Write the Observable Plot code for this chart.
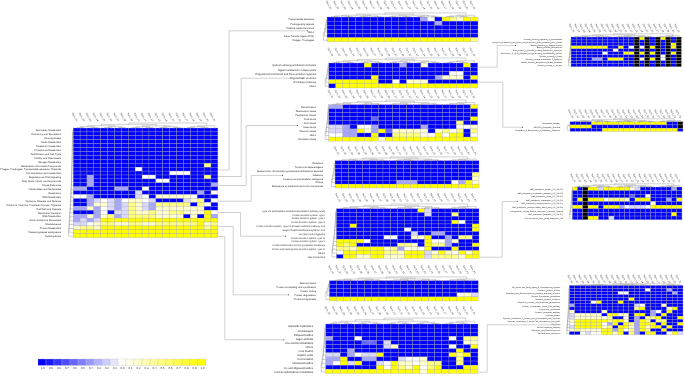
<!DOCTYPE html>
<html><head><meta charset="utf-8">
<style>html,body{margin:0;padding:0;background:#fff}#chart{position:relative;width:685px;height:376px;overflow:hidden;background:#fff;font-family:"Liberation Sans",Arial,sans-serif;filter:blur(.3px);text-rendering:geometricPrecision}#chart svg{position:absolute;text-rendering:geometricPrecision}</style>
<script src="https://cdn.jsdelivr.net/npm/d3@7"></script>
<script src="https://cdn.jsdelivr.net/npm/@observablehq/plot@0.6"></script>
</head><body><div id="chart"></div>
<script>
// Cell codes
const levels = {B:-1, m:-0.6, l:-0.35, p:-0.15, w:0, c:0.2, y:0.5, Y:1, K:null};
const B = "BBBBBBBBBBBBBBBBBBBBB", Yy = "YYYYYYYYYYYYYYYYYYYYY";
const sampleNames = ["Sam_01","Sam_02","Sam_03","Sam_04","Sam_05","Sam_06","Sam_07","Sam_08","Sam_09","Sam_10","Sam_11","Sam_12","Sam_13","Sam_14","Sam_15","Sam_16","Sam_17","Sam_18","Sam_19","Sam_20","Sam_21"];
const legendTicks = [-1,-.9,-.8,-.7,-.6,-.5,-.4,-.3,-.2,-.1,0,.1,.2,.3,.4,.5,.6,.7,.8,.9,1];

const mainLabels = ["Secondary Metabolism","Dormancy and Sporulation","Photosynthesis","Sulfur Metabolism","Potassium metabolism","Phosphorus Metabolism","Cell Division and Cell Cycle","Motility and Chemotaxis","Nitrogen Metabolism","Metabolism of Aromatic Compounds","Phages, Prophages, Transposable elements, Plasmids","Iron acquisition and metabolism","Regulation and Cell signaling","Fatty Acids, Lipids, and Isoprenoids","Stress Response","Nucleosides and Nucleotides","Respiration","DNA Metabolism","Virulence, Disease and Defense","Cofactors, Vitamins, Prosthetic Groups, Pigments","Cell Wall and Capsule","Membrane Transport","RNA Metabolism","Amino Acids and Derivatives","Miscellaneous","Protein Metabolism","Clustering-based subsystems","Carbohydrates"];
const mainValues = [B,B,B,B,B,B,B,B,B,
"BBBBBBBBBBBBBBBBBBByB","BBBBBBBBBwBBBBBBBBBBB","BBBBBBBBBBBBBBwwwBBBB",
"BBlBBBBBBBwwBBBBBBByB","BBlBBBBBBBBBwwBBBBBBB","BBlBBBBBBBBBBBBBBBBBl",
"llBBBBllBBwBBBBBBBBBB","BBBBBBBBBpBBBBBBBBlBw",
"wwlBBBBBBpwBcccccwBBB","BBlpwplwccwpBBBBpcyBw","BBlccplpycplyyyyyBywB",
"llclwplpycplcccccccBB","BBBlwBppyccyccyycccYw","llclcylpyyyyccccBcBYl",
"lplpYYYYYYYYYYYYYYYYY","ppwcyyccyyccyyyyyyYcy","cyycYYYYYYYYYYYYYYYyY",Yy,Yy];

const aLabels = ["Transposable elements","Pathogenicity islands","Plasmid related functions","NULL","Gene Transfer Agent (GTA)","Phages, Prophages"];
const aValues = ["BBBBBBBBBBBBBlwBYycYY","BBBBBBBBBBBBBBBlBBBBB",B,B,B,"YYYYYYYYYYYYYYYYYYYYy"];

const bLabels = ["Quorum sensing and biofilm formation","Signal transduction in Eukaryotes","Programmed Cell Death and Toxin-antitoxin Systems","Regulation of virulence","Proteolytic pathway","NULL"];
const bValues = ["BBBBBYBBBBlBBcBBBBBYB",B,"BBBBBBBBBBBBBBBBBwwBB","BBBBBBYBBBBBBBBlcccBY","YYYYYYYBBwBcccBBBBBBB","BYYYYYYYYYYYYYYYYYYYY"];

const cLabels = ["Detoxification","Desiccation stress","Periplasmic Stress","Cold shock","Acid stress","Heat shock","Osmotic stress","NULL","Oxidative stress"];
const cValues = ["llBBBBBBBBBBBBBBBBBBY",B,B,"BBBBBBmBBBBBBBBBBBBBY","BBBBBBBBBBBBBBBBBByBB","pplBwwlBBBBBBlBBBBwwc","ppllYclYmcccccBcywyBy","wwllBBYBByyyywwYwYYBw","YYYYYYYcYYYYYYYYYYYYY"];

const dLabels = ["Detection","Toxins and superantigens","Bacteriocins, ribosomally synthesized antibacterial peptides","Adhesion","Invasion and intracellular resistance","Others","Resistance to antibiotics and toxic compounds"];
const dValues = [B,B,B,"BBBBBBBBBBBBBBBBBBBBy","BBBBBBBBBBBBBBBBBBBBc","BBBBBBBBBlllBBBBBwlYc",Yy];

const eLabels = ["Type VIII (Extracellular nucleation/precipitation pathway, ENP)","Protein secretion system, Type I","Protein secretion system, Type II","Protein secretion system, Type III","Protein secretion system, Type VII (Chaperone/Usher pathway, CU)","Sugar Phosphotransferase Systems, PTS","Lan (Iper) and polyglycine","Protein secretion system, Type VI","Protein secretion system, Type V","Protein translocation across cytoplasmic membrane","Protein and nucleoprotein secretion system, Type IV","Others","ABC transporters"];
const eValues = ["BBBBBBBBBBBBYpBBBBBBB","BBBBBBBBBBBBBpBBByBBB",B,"BBBBBBBBBBBBBBBBBYwBB","BBYBBBBBBBBBBBBBBBBBY","BBBBBBBBBBwBBBBBBBBBY","BBBBBBBBBBBpBBllBBBBB","BBBBBBBwwBBccYBBlByyB","YYYYwBBBBBBBBYwwlcBBB","YyYBBBBBByycBYyylBBBY","yycYYYYcylwcwYBBBYBBB","wYYYYYYyycYYYpcYcwYcY","BYYccYYcccYYYpyyyycYY"];

const fLabels = ["Selenoproteins","Protein processing and modification","Protein folding","Protein degradation","Protein biosynthesis"];
const fValues = [B,B,B,"BBBBBBBBBBBBBBBBBBwcp",Yy];

const gLabels = ["Glycoside hydrolases","Aminosugars","Polysaccharides","Sugar alcohols","One-carbon Metabolism","Others","CO2 fixation","Organic acids","Fermentation","Monosaccharides","Di- and oligosaccharides","Central carbohydrate metabolism"];
const gValues = [B,B,B,"lBBBwBBBBBBBBBBBBwByy","BBBBBmmBpBBBBBBBBBBcc","BBBBBBBBpcBBBBBBBwBBY","BBBlBBBBBBBBBBBBBBYBB","ppBlwppYBBBBBBBBBYyYB","llYBBllBBBpwwcBBBByBB","lwYpYBBpwYccwcyyBByBB","BBBBBBBYwYycYwyYBBBYY","YYYYYYYYYYYYYcYYYYYYY"];

const hLabels = ["Quorum_sensing_regulation_of_biosurfactant","Acetylene_metabolism_and_hybrid_dehydrogenase_biotin_formation_gene_cluster","Biofilm_formation_in_Staphylococcus","Biofilm_Adhesin_Biosynthesis","Auto_Inducer_2_Quorum_sensing_Autoinducer_Synthesis","Autoinducer_2_(AI-2)_transport_and_processing_(lsrACDBFGE_operon)","Quorum_sensing_in_Vibrio","Quorum_sensing_Autoinducer-2_Synthesis","Biofilm_Adhesin_Biosynthesis_Biofilm_formation","Quorum_sensing_in_Yersinia"];
const hValues = ["BBBBBBBBBBBBKYKBKYKBK","BBBBBBBBBBBBKBKBKBKBK","BBBBBBBBBBBBKBKBKBKYK","YYYYYYYBBYBwKwKYKBKYK","BBBBBBBBwBBBKBKBKBKBK","BBBBBBwBBBYYKYKYKBKYK","BBBBBBBBBBBBKBKBKwKBK","BBBBllBYYYBBKcKYKwKBK","BBBBBBBBBBBBKBKBKBKBK","BBBBBBBBBBBBKBKBKBKBK"];

const iLabels = ["Coagulation_cascade","SNF2005_Phosphate_Removal","Regulation_of_Biosynthesis_of_Galactose_Pathways"];
const iValues = ["BBBBYYYYYYYYYYYYYYBBK","YYYYBBBBBBBBBBBBBBBBK","BBBBBBYYYYYYYYYYYYYYB"];

const jLabels = ["ABC_transporter_peptide_(TC_3.A.1.5)","ABC_transporter_D-galactose_transport_(TC_3.A.1.2)","ABC_transporter_sugar_(TC_3.A.1.1)","ABC_transporter_oligopeptide_(TC_3.A.1.5)","ABC_transporter_dihydroxyacetone_(TC_3.A.1.5)","ABC_transporter_branched-chain_amino_acid_(TC_3.A.1.4)","Ferripyochelin_binding_Protein_(Dipeptide_Transcript_System)","ABC_transporter_tungstate_(TC_3.A.1.6)","ATP-dependent_efflux_pump_transporter_Ybt"];
const jValues = ["YBKYYpYYYYYwpBBBBBBlB","BBKBBBBBBBBBBBBBBBBBB","BBKBBBBBBBBmBBwBBBBBB","BYKYYYwyyycBYYYBBBlBY","BBKBBBBBBBBBBBBcBBBBB","YYKYYBYYYlwpppwYYYYYY","BBKBBBBBBBBBBBBBBBBBB","BBKBBBBBBBBBBBBBBBBYB","BBKYYBBpBBBBBBBBBBBBB"];

const kLabels = ["RR_stress_and_(anti)_sigma_in_Mycobacterial_regulons","Oxidative_pentose_Ketose","Glycolysis_and_Gluconeogenesis_including_Archaeal_enzymes","Glycerol-3-phosphate_metabolism","Mannose_fructose_Pentoses","Polyamine_Formate_dehydrogenase_Biosynthesis","Formate_hydrogenase_Acetyl_CoA_pathway","Deoxyribose_metabolism","Pentose_phosphate_pathway","Pyruvate_Kinase","Pyruvate_metabolism_II_Lactate_Acid_fermentation_from_Pyruvate","Pyruvate_metabolism_II_acetyl-CoA_acetogenesis_from_PEP","TCA_Cycle","Entner-Doudoroff_Pathway","Glycolysis_and_Gluconeogenesis","Calvin-Benson_complexes"];
const kValues = [B,"BBBBBBBBBBBBBBwBBBlBB","BBBBBBBBBwwBBBBBBBBlB",B,"BBBBBBBBBBBYBBBBBBBBB","BBBBwYBBBYBBBBBBBBBBB","lBBBBBBBBBBBpwBBBcBBB","BBBBBBBBBBBByYBBBBcYB","cBBBBBcBBBBBBBBlwBYBB","pcccccBYYccBYYBlBYBBB","pcccccwyBBwBlByyYBBBY","cYYYYYYyYYcBlYyByyBBB","wYYYYYwlYBYylYYYBYBBY","pYYYYYcyBYYclYcYYBYBB","cyccccYYlYwylYyBBYBBB","BBwpwwYYcYBylBYYBBwYp"];

const panelData = [
  {labels:mainLabels, values:mainValues, x1:73.3,x2:218,y1:128,y2:237.7,gapL:12.2,gapT:6,font:2.5,lx:5,pad:1.5},
  {labels:aLabels, values:aValues, x1:326.7,x2:477.7,y1:16.7,y2:41.5,gapL:13,gapT:5,font:2.5,lx:4,pad:3.5},
  {labels:bLabels, values:bValues, x1:328.7,x2:477.7,y1:63.3,y2:88.3,gapL:12.7,gapT:6,font:2.6,lx:4,pad:1.5},
  {labels:cLabels, values:cValues, x1:328.7,x2:477.7,y1:105,y2:141.4,gapL:12.7,gapT:5.7,font:2.5,lx:4,pad:1.5},
  {labels:dLabels, values:dValues, x1:335.3,x2:479.3,y1:160.7,y2:188,gapL:12,gapT:4.7,font:2.5,lx:4,pad:2},
  {labels:eLabels, values:eValues, x1:336.7,x2:479.3,y1:209,y2:258.6,gapL:11.4,gapT:5.7,font:2.3,lx:5,pad:2},
  {labels:fLabels, values:fValues, x1:329.3,x2:478.3,y1:280.7,y2:301,gapL:13.3,gapT:4.7,font:2.5,lx:4,pad:3},
  {labels:gLabels, values:gValues, x1:326,x2:478.3,y1:324.3,y2:373.7,gapL:12.7,gapT:7,font:2.65,lx:5,pad:3},
  {labels:hLabels, values:hValues, x1:571.3,x2:681.7,y1:37.3,y2:67,gapL:9,gapT:4,font:1.9,lx:3,pad:1.5},
  {labels:iLabels, values:iValues, x1:570,x2:683,y1:122,y2:131.7,gapL:10,gapT:3.7,font:1.9,lx:3,pad:.8},
  {labels:jLabels, values:jValues, x1:572.3,x2:682,y1:187.3,y2:220,gapL:9.3,gapT:4,font:1.9,lx:3,pad:1.5},
  {labels:kLabels, values:kValues, x1:569.3,x2:683,y1:285.7,y2:335,gapL:9.3,gapT:2.4,font:1.9,lx:3,pad:.5}
];
const connectorPaths = [
  [[218,169.5],[228.5,169.5],[228.5,30.3],[307,30.3]],
  [[218,176],[240.7,176],[240.7,77.7],[302,77.7]],
  [[218,185],[245.7,185],[245.7,125],[297,125]],
  [[218,200.7],[250.7,200.7],[250.7,175],[282,175]],
  [[218,212],[240,212],[240,235.7],[285,235.7]],
  [[218,226],[232.7,226],[232.7,294.3],[288,294.3]],
  [[218,236],[224.3,236],[224.3,339.3],[283.3,339.3]],
  [[478,66.7],[496.7,66.7],[496.7,45],[515,45]],
  [[478,81.7],[502.3,81.7],[502.3,126.7],[522,126.7]],
  [[479.3,256.7],[501.7,256.7],[501.7,201],[516.7,201]],
  [[478.3,371.7],[486.7,371.7],[486.7,324.3],[560,324.3]]
];

const colorScale = {type:"linear",domain:[-1,0,1],range:["#0000ff","#ffffff","#ffff00"]};
const root = document.getElementById("chart");
const svgStyle = {background:"transparent",overflow:"visible",maxWidth:"none",fontFamily:"'Liberation Sans',Arial,sans-serif"};

function place(svg,left,top){svg.style.left=left+"px";svg.style.top=top+"px";root.appendChild(svg);}

// Decorative clustering brackets, drawn in each panel's own data units
function columnTree(n,hTop){
  const heights=[.18,.34,.5,.74,1], segs=[]; let nodes=d3.range(n).map(i=>({x:i+.5,h:0})), lv=0, id=0;
  while(nodes.length>1){
    const next=[], H=-hTop*heights[Math.min(lv,4)];
    for(let i=0;i<nodes.length;i+=2){
      if(i+1===nodes.length){next.push(nodes[i]);break;}
      const a=nodes[i],b=nodes[i+1];
      segs.push({x:a.x,y:a.h,z:id},{x:a.x,y:H,z:id},{x:b.x,y:H,z:id},{x:b.x,y:b.h,z:id}); id++;
      next.push({x:(a.x+b.x)/2,h:H});
    }
    nodes=next; lv++;
  }
  return segs;
}
function rowTree(n,wTop){
  const segs=[]; let cy=.5,ch=0;
  for(let i=1;i<n;i++){
    const t=i/(n-1), H=-wTop*(.25+.75*t*t), y=i+.5;
    segs.push({x:ch,y:cy,z:i},{x:H,y:cy,z:i},{x:H,y:y,z:i},{x:0,y:y,z:i});
    cy=(cy+y)/2; ch=H;
  }
  return segs;
}

for(const p of panelData){
  const rows=p.values.length, cols=21;
  const cw=(p.x2-p.x1)/cols, ch=(p.y2-p.y1)/rows;
  const ml=70, mt=10, w=ml+p.gapL+(p.x2-p.x1), h=mt+p.gapT+(p.y2-p.y1);
  const xMin=-p.gapL/cw, yMin=-p.gapT/ch;
  const cells=p.values.flatMap((s,r)=>Array.from(s).map((c,k)=>({r,k,v:levels[c]})));
  const ticksX=d3.range(cols).map(i=>i+.5), ticksY=d3.range(rows).map(i=>i+.5);
  const rect={x1:"k",x2:d=>d.k+1,y1:"r",y2:d=>d.r+1,stroke:"#a2a2aa",strokeWidth:.3};
  const svg=Plot.plot({
    width:w,height:h,marginLeft:ml,marginTop:mt,marginRight:0,marginBottom:0,
    style:svgStyle,
    x:{domain:[xMin,cols],axis:null},
    y:{domain:[rows,yMin],axis:null},
    color:colorScale,
    marks:[
      Plot.rect(cells.filter(d=>d.v!==null),{...rect,fill:"v"}),
      Plot.rect(cells.filter(d=>d.v===null),{...rect,fill:"#000"}),
      Plot.line(columnTree(cols,p.gapT*.92/ch),{x:"x",y:"y",z:"z",stroke:"#8a8a8a",strokeWidth:.4}),
      Plot.line(rowTree(rows,p.lx/cw),{x:"x",y:"y",z:"z",stroke:"#8a8a8a",strokeWidth:.4}),
      Plot.axisY(ticksY,{anchor:"left",tickSize:0,tickPadding:.4,label:null,fontSize:p.font,fill:"#222",tickFormat:d=>p.labels[d-.5]}),
      Plot.axisX(ticksX,{anchor:"top",tickSize:0,tickPadding:p.pad,label:null,fontSize:2.5,fill:"#333",tickRotate:60,tickFormat:d=>sampleNames[d-.5]})
    ]
  });
  place(svg,p.x1-p.gapL-ml,p.y1-p.gapT-mt);
}

// Legend
{
  const legend=Plot.plot({
    width:170,height:12,marginLeft:0,marginRight:0,marginTop:0,marginBottom:5.6,
    style:svgStyle,
    x:{domain:legendTicks,type:"band",padding:0,axis:null},
    color:colorScale,
    marks:[
      Plot.cell(legendTicks,{x:d=>d,fill:d=>d,stroke:"#bbb",strokeWidth:.3}),
      Plot.axisX(legendTicks,{anchor:"bottom",tickSize:0,tickPadding:1,label:null,fontSize:2.8,fill:"#333",tickFormat:d=>d.toFixed(1)})
    ]
  });
  place(legend,37.3,359.3);
}

// Connectors between the panels
{
  const pts=connectorPaths.flatMap((path,z)=>path.map(([x,y])=>({x,y,z})));
  const ends=connectorPaths.slice(0,10).map(path=>path[path.length-1]);
  const overlay=Plot.plot({
    width:685,height:376,margin:0,style:{...svgStyle,pointerEvents:"none"},
    x:{domain:[0,685],axis:null},y:{domain:[376,0],axis:null},
    marks:[
      Plot.line(pts,{x:"x",y:"y",z:"z",stroke:"#bdbdbd",strokeWidth:.7}),
      Plot.dot(ends,{x:d=>d[0],y:d=>d[1],r:.5,fill:"#333"})
    ]
  });
  place(overlay,0,0);
}
</script></body></html>
